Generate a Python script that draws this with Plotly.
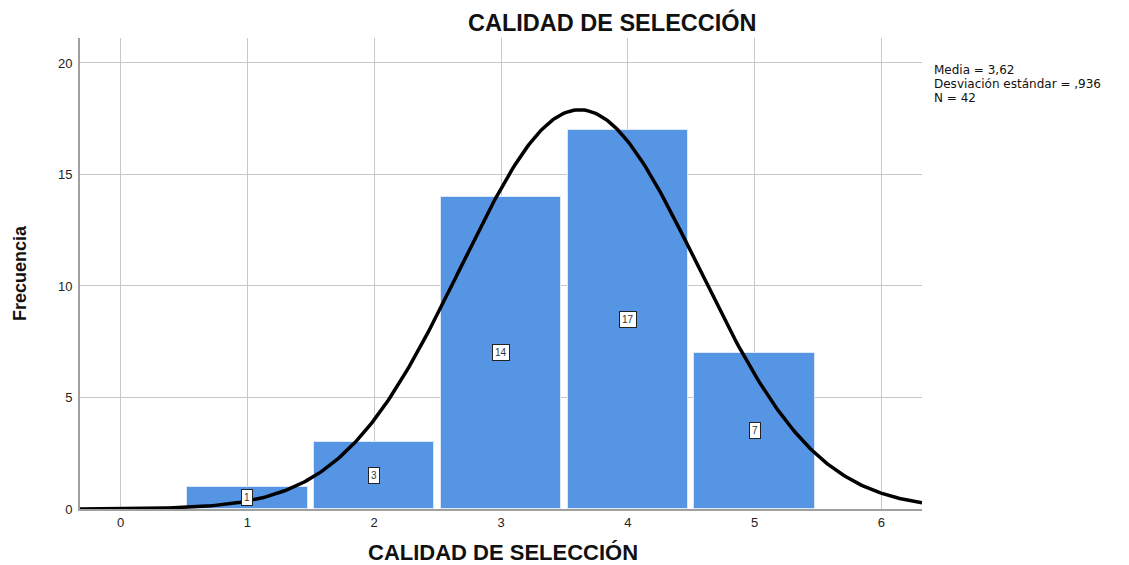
import numpy as np
import plotly.graph_objects as go

categories = [1, 2, 3, 4, 5]
counts = [1, 3, 14, 17, 7]
mean_val = 3.62
sd_val = 0.936
n_total = 42
x_ticks = [0, 1, 2, 3, 4, 5, 6]
y_ticks = [0, 5, 10, 15, 20]
stats_lines = ["Media = 3,62", "Desviación estándar = ,936", "N = 42"]

x_range = [-0.32, 6.32]
y_range = [0, 21.12]

fig = go.Figure()
fig.add_trace(go.Bar(
    x=categories, y=counts, width=0.95,
    marker=dict(color="#5595E3", line=dict(color="#DCE8F8", width=1)),
    showlegend=False, hoverinfo="skip"))

xs = np.linspace(x_range[0], x_range[1], 400)
ys = n_total * 1.0 / (sd_val * np.sqrt(2 * np.pi)) * np.exp(-0.5 * ((xs - mean_val) / sd_val) ** 2)
fig.add_trace(go.Scatter(x=xs, y=ys, mode="lines",
                         line=dict(color="black", width=3.5),
                         showlegend=False, hoverinfo="skip"))

for c, v in zip(categories, counts):
    fig.add_annotation(x=c, y=v / 2, text=str(v), showarrow=False,
                       font=dict(family="Liberation Sans, Arial", size=10, color="#333333"),
                       bgcolor="white", bordercolor="#222222", borderwidth=1, borderpad=2)

fig.add_annotation(xref="paper", yref="paper", x=(612 - 80) / 842, y=1.0, yshift=16,
                   yanchor="middle", xanchor="center",
                   text="<b>CALIDAD DE SELECCIÓN</b>", showarrow=False,
                   font=dict(family="Liberation Sans, Arial", size=23.5, color="#111111"))

fig.add_annotation(xref="paper", yref="paper", x=(503 - 80) / 842, y=0, yshift=-43,
                   yanchor="middle", xanchor="center",
                   text="<b>CALIDAD DE SELECCIÓN</b>", showarrow=False,
                   font=dict(family="Liberation Sans, Arial", size=22, color="#111111"))

fig.add_annotation(xref="paper", yref="paper", x=0, xshift=-60, xanchor="center",
                   y=(509 - 273) / 471, yanchor="middle",
                   text="<b>Frecuencia</b>", showarrow=False, textangle=-90,
                   font=dict(family="Liberation Sans Narrow, Liberation Sans, Arial", size=18, color="#111111"))

for i, line in enumerate(stats_lines):
    fig.add_annotation(xref="paper", yref="paper", x=1.0, xshift=10, xanchor="left",
                       y=(509 - 70 - 14 * i) / 471, yanchor="middle", align="left",
                       text=line, showarrow=False,
                       font=dict(family="DejaVu Sans", size=12, color="#111111"))

fig.update_layout(
    width=1129, height=565,
    margin=dict(l=72, r=215, t=30, b=64),
    plot_bgcolor="white", paper_bgcolor="white",
    bargap=0,
    xaxis=dict(range=x_range, tickvals=x_ticks, showgrid=True, gridcolor="#C8C8C8",
               gridwidth=1, zeroline=False, showline=True, linecolor="#A0A0A0", linewidth=2,
               ticks="", automargin=False,
               tickfont=dict(family="Liberation Sans, Arial", size=13, color="#222222")),
    yaxis=dict(range=y_range, tickvals=y_ticks, showgrid=True, gridcolor="#C8C8C8",
               gridwidth=1, zeroline=False, showline=True, linecolor="#A0A0A0", linewidth=2,
               ticks="", automargin=False, ticklabelstandoff=3,
               tickfont=dict(family="Liberation Sans, Arial", size=13, color="#222222")),
)

fig.write_html("out.html")
